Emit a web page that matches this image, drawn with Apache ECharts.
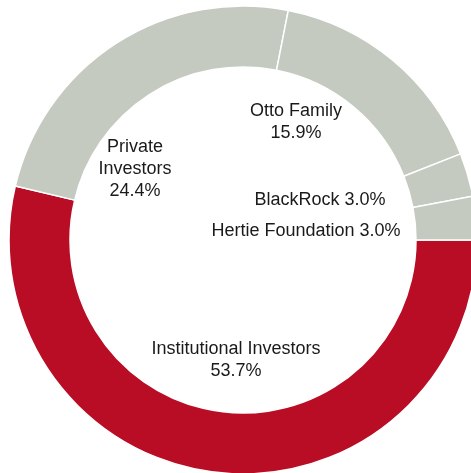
<!DOCTYPE html>
<html>
<head>
<meta charset="utf-8">
<script src="https://cdn.jsdelivr.net/npm/echarts@6/dist/echarts.min.js"></script>
<style>
  html, body { margin: 0; padding: 0; background: #fff; }
  #chart { width: 471px; height: 473px; }
</style>
</head>
<body>
<div id="chart"></div>
<script>
// shareholder structure (%), clockwise from 3 o'clock
const names = ['Institutional Investors', 'Private\nInvestors', 'Otto Family', 'BlackRock', 'Hertie Foundation'];
const shares = [53.7, 24.4, 15.9, 3.0, 3.0];
const colors = ['#b90c25', '#c4cac0', '#c4cac0', '#c4cac0', '#c4cac0'];

// label anchor points inside the hole (centre of each text block)
const labelSpots = [[236, 360], [135, 169], [296, 122], [320, 200], [306, 231]];
const singleLine = [false, false, false, true, true];

const chart = echarts.init(document.getElementById('chart'));
chart.setOption({
  animation: false,
  series: [{
    type: 'pie',
    center: [243, 240],
    radius: [173, 234],
    startAngle: 0,
    clockwise: true,
    avoidLabelOverlap: false,
    itemStyle: { borderColor: '#fff', borderWidth: 1.5 },
    label: {
      show: true,
      position: 'outside',
      color: '#1a1a1a',
      fontFamily: 'Liberation Sans, Arial, sans-serif',
      fontSize: 18,
      lineHeight: 22,
      align: 'center',
      formatter: p => singleLine[p.dataIndex]
        ? p.name + ' ' + p.value.toFixed(1) + '%'
        : p.name + '\n' + p.value.toFixed(1) + '%'
    },
    labelLine: { show: false },
    labelLayout: p => ({
      x: labelSpots[p.dataIndex][0],
      y: labelSpots[p.dataIndex][1],
      align: 'center',
      verticalAlign: 'middle'
    }),
    data: names.map((n, i) => ({ name: n, value: shares[i], itemStyle: { color: colors[i] } }))
  }]
});
</script>
</body>
</html>
